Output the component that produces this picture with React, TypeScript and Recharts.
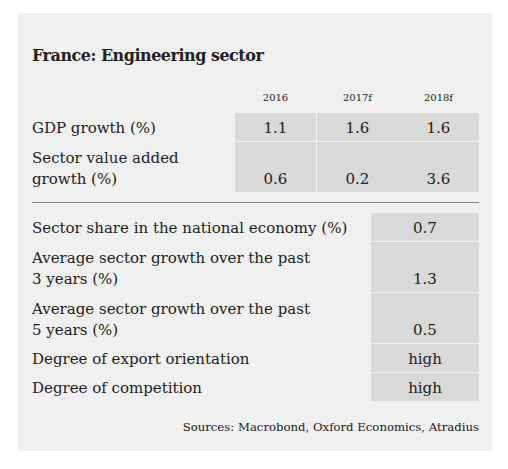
import React from "react";
import { Surface, Rectangle, Text, Layer } from "recharts";

const TITLE = "France: Engineering sector";
const years = ["2016", "2017f", "2018f"];
const table1Labels = [["GDP growth (%)"], ["Sector value added", "growth (%)"]];
const gdpGrowth = ["1.1", "1.6", "1.6"];
const sectorValueAdded = ["0.6", "0.2", "3.6"];
const table1Values = [gdpGrowth, sectorValueAdded];
const table2Labels = [
  ["Sector share in the national economy (%)"],
  ["Average sector growth over the past", "3 years (%)"],
  ["Average sector growth over the past", "5 years (%)"],
  ["Degree of export orientation"],
  ["Degree of competition"],
];
const table2Values = ["0.7", "1.3", "0.5", "high", "high"];
const SOURCE = "Sources: Macrobond, Oxford Economics, Atradius";

const W = 508;
const H = 469;
const FONT = "'DejaVu Serif', serif";
const TEXT = "#222";
const CELL = "#d9d9d9";
const LEFT = 32;
const RIGHT = 479;
const SINGLE_H = 28;
const DOUBLE_H = 50;
const LINE_GAP = 21;
const BODY_SIZE = 15;
const colX = [235, 317, 398];
const colW = 81;

function rowHeight(lines: string[]) {
  return lines.length > 1 ? DOUBLE_H : SINGLE_H;
}

function Labels({ lines, top, h }: { lines: string[]; top: number; h: number }) {
  const lastBase = top + h - 8;
  return (
    <Layer>
      {lines.map((l, i) => (
        <Text
          key={i}
          x={LEFT}
          y={lastBase - (lines.length - 1 - i) * LINE_GAP}
          fontFamily={FONT}
          fontSize={BODY_SIZE}
          fill={TEXT}
          textAnchor="start"
          verticalAnchor="end"
        >
          {l}
        </Text>
      ))}
    </Layer>
  );
}

export default function App() {
  let y1 = 113;
  const t1 = table1Labels.map((lines, r) => {
    const h = rowHeight(lines);
    const top = y1;
    y1 += h + 1;
    return (
      <Layer key={"t1" + r}>
        <Labels lines={lines} top={top} h={h} />
        {table1Values[r].map((v, c) => (
          <Layer key={c}>
            <Rectangle x={colX[c]} y={top} width={colW} height={h} fill={CELL} />
            <Text
              x={colX[c] + colW / 2}
              y={top + h - 8}
              textAnchor="middle"
              verticalAnchor="end"
              fontFamily={FONT}
              fontSize={BODY_SIZE}
              fill={TEXT}
            >
              {v}
            </Text>
          </Layer>
        ))}
      </Layer>
    );
  });

  let y2 = 213;
  const t2 = table2Labels.map((lines, r) => {
    const h = rowHeight(lines);
    const top = y2;
    y2 += h + 1;
    return (
      <Layer key={"t2" + r}>
        <Labels lines={lines} top={top} h={h} />
        <Rectangle x={371} y={top} width={RIGHT - 371} height={h} fill={CELL} />
        <Text
          x={(371 + RIGHT) / 2}
          y={top + h - 8}
          textAnchor="middle"
          verticalAnchor="end"
          fontFamily={FONT}
          fontSize={BODY_SIZE}
          fill={TEXT}
        >
          {table2Values[r]}
        </Text>
      </Layer>
    );
  });

  return (
    <div style={{ position: "absolute", left: 0, top: 0, width: W, height: H, background: "#fff" }}>
      <Surface width={W} height={H}>
        <Rectangle x={18} y={13} width={474} height={438} fill="#f0f0f0" />
        <Text
          x={LEFT}
          y={61}
          fontFamily={FONT}
          fontWeight="bold"
          fontSize={16}
          letterSpacing={-0.5}
          fill={TEXT}
          verticalAnchor="end"
        >
          {TITLE}
        </Text>
        {years.map((yr, c) => (
          <Text
            key={yr}
            x={colX[c] + colW / 2}
            y={101}
            textAnchor="middle"
            verticalAnchor="end"
            fontFamily={FONT}
            fontSize={10}
            fill={TEXT}
          >
            {yr}
          </Text>
        ))}
        {t1}
        <Rectangle x={LEFT} y={202} width={RIGHT - LEFT} height={1} fill="#888" />
        {t2}
        <Text
          x={RIGHT}
          y={431}
          textAnchor="end"
          verticalAnchor="end"
          fontFamily={FONT}
          fontSize={11.7}
          fill={TEXT}
        >
          {SOURCE}
        </Text>
      </Surface>
    </div>
  );
}
